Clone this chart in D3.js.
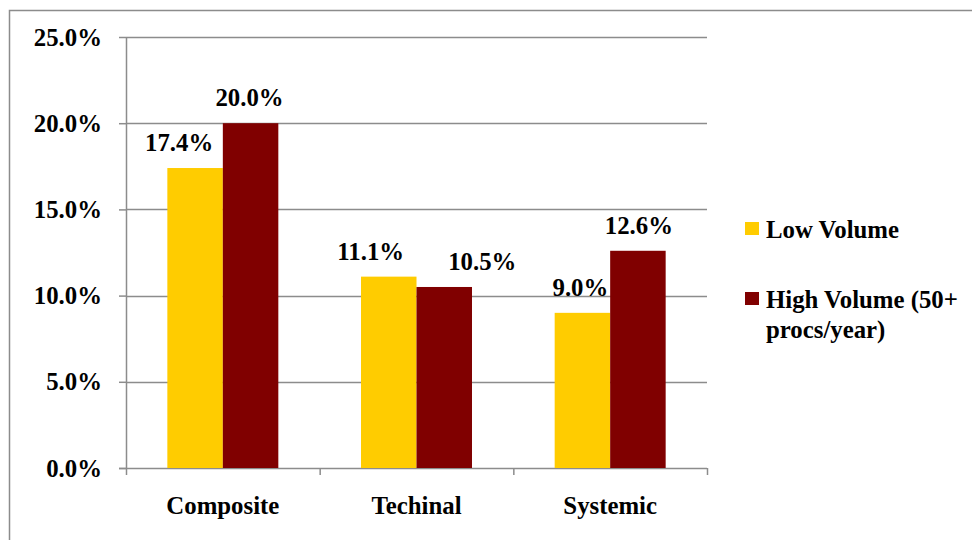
<!DOCTYPE html>
<html><head><meta charset="utf-8">
<script src="https://cdn.jsdelivr.net/npm/d3@7"></script>
<style>html,body{margin:0;padding:0;background:#fff;overflow:hidden}</style>
</head><body>
<script>
const categories = ["Composite", "Techinal", "Systemic"];
const seriesNames = ["Low Volume", "High Volume (50+ procs/year)"];
const lowVolume = [17.4, 11.1, 9.0];
const highVolume = [20.0, 10.5, 12.6];
const yTicks = [0, 5, 10, 15, 20, 25];
const colors = ["#FFCC00", "#800000"];

(function () {
const W = 972, H = 540;
const FONT = "Liberation Serif";
const FS = 24.8;
const svg = d3.select("body").append("svg").attr("width", W).attr("height", H);
const styleText = sel => sel.attr("font-family", FONT).attr("font-weight", "bold").attr("font-size", FS).attr("fill", "#000");

// outer border
svg.append("rect").attr("x", 9.5).attr("y", 10.5).attr("width", W + 20).attr("height", H + 20)
  .attr("fill", "none").attr("stroke", "#8c8c8c").attr("stroke-width", 1.5);

const pLeft = 126, pRight = 707, pTop = 37, pBottom = 468;
const x0 = d3.scaleBand().domain(categories).range([pLeft, pRight]).padding(0);
const x1 = d3.scaleBand().domain([0, 1]).range([0, x0.bandwidth()]).paddingInner(0).paddingOuter(0.745);
const y = d3.scaleLinear().domain([0, 25]).range([pBottom, pTop]);

// gridlines
svg.append("g").selectAll("line").data(yTicks.filter(d => d > 0)).join("line")
  .attr("x1", pLeft).attr("x2", pRight).attr("y1", d => Math.round(y(d)) + 0.5).attr("y2", d => Math.round(y(d)) + 0.5)
  .attr("stroke", "#8c8c8c").attr("stroke-width", 1.5);

// y axis
const yAxis = svg.append("g").attr("transform", `translate(${pLeft},0)`)
  .call(d3.axisLeft(y).tickValues(yTicks).tickSize(7).tickPadding(17).tickFormat(d => d.toFixed(1) + "%"));
yAxis.attr("font-family", FONT);
yAxis.select(".domain").attr("stroke", "#8c8c8c").attr("stroke-width", 1.5).attr("d", `M0.5,${pTop}V${pBottom}`);
yAxis.selectAll(".tick line").attr("stroke", "#8c8c8c").attr("stroke-width", 1.5);
yAxis.selectAll(".tick text").call(styleText).attr("dy", "0.33em");

// x axis
const xAxis = svg.append("g").attr("transform", `translate(0,${pBottom})`)
  .call(d3.axisBottom(x0).tickSize(0).tickPadding(28));
xAxis.attr("font-family", FONT);
xAxis.select(".domain").attr("stroke", "#8c8c8c").attr("stroke-width", 1.5).attr("d", `M${pLeft - 7},0.5H${pRight}`);
xAxis.selectAll(".tick text").call(styleText);
// category separators
const bounds = categories.map(c => x0(c)).concat([pRight]);
svg.append("g").selectAll("line").data(bounds).join("line")
  .attr("x1", d => d + 0.5).attr("x2", d => d + 0.5).attr("y1", pBottom).attr("y2", pBottom + 7)
  .attr("stroke", "#8c8c8c").attr("stroke-width", 1.5);

// bars
const series = [lowVolume, highVolume];
const labelDx = [[-16, -18, -2], [-1, 38, 1]];
series.forEach((vals, si) => {
  const g = svg.append("g");
  g.selectAll("rect").data(vals).join("rect")
    .attr("x", (d, i) => x0(categories[i]) + x1(si))
    .attr("width", x1.bandwidth())
    .attr("y", d => y(d))
    .attr("height", d => y(0) - y(d))
    .attr("fill", colors[si]);
  g.selectAll("text").data(vals).join("text")
    .attr("x", (d, i) => x0(categories[i]) + x1(si) + x1.bandwidth() / 2 + labelDx[si][i])
    .attr("y", d => y(d) - 17)
    .attr("text-anchor", "middle").call(styleText)
    .text(d => d.toFixed(1) + "%");
});

// legend
const legendLines = [["Low Volume"], ["High Volume (50+", "procs/year)"]];
const legY = [222, 292];
legendLines.forEach((lines, i) => {
  svg.append("rect").attr("x", 745).attr("y", legY[i]).attr("width", 14).attr("height", 13).attr("fill", colors[i]);
  const t = svg.append("text").attr("x", 766).attr("y", legY[i] + 16).call(styleText);
  lines.forEach((l, j) => t.append("tspan").attr("x", 766).attr("dy", j ? 30 : 0).text(l));
});
})();
</script>
</body></html>
